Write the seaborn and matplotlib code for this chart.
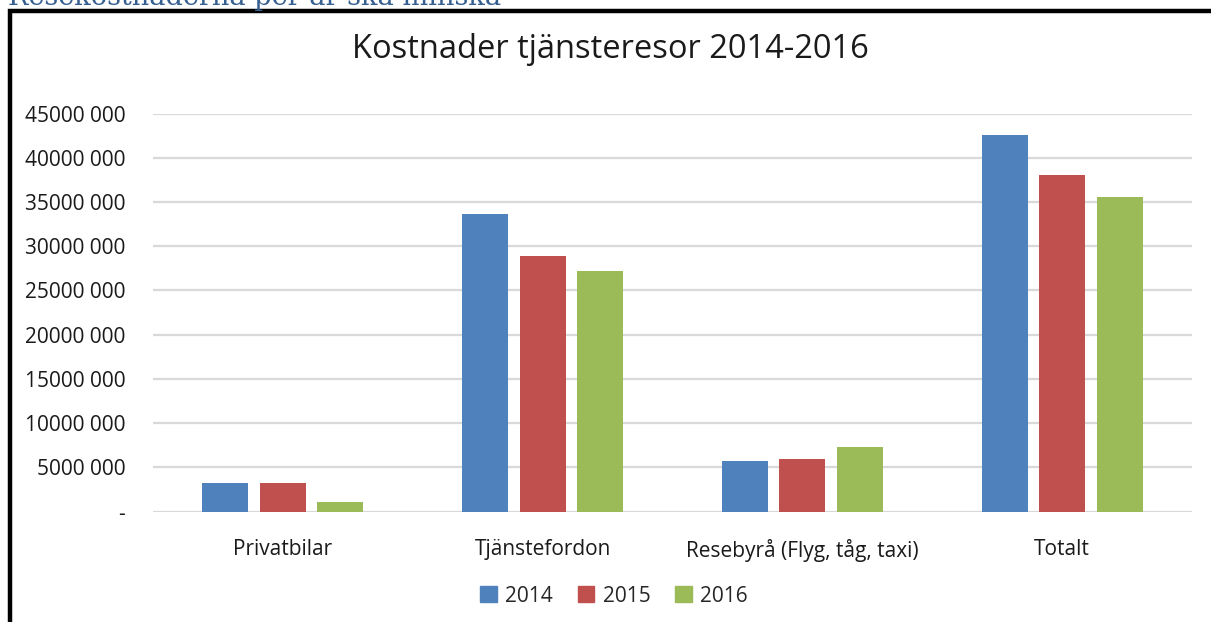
import pandas as pd
import seaborn as sns
import matplotlib.pyplot as plt
from matplotlib.patches import Rectangle
from matplotlib.ticker import FuncFormatter, MultipleLocator

# Data (SEK)
categories = ["Privatbilar", "Tjänstefordon", "Resebyrå (Flyg, tåg, taxi)", "Totalt"]
years = ["2014", "2015", "2016"]
cost_2014 = [3230000, 33640000, 5710000, 42570000]
cost_2015 = [3230000, 28900000, 5930000, 38050000]
cost_2016 = [1090000, 27200000, 7290000, 35560000]
colors = ["#4F81BD", "#C0504D", "#9BBB59"]

df = pd.DataFrame({
    "kategori": categories * 3,
    "år": [y for y in years for _ in categories],
    "kostnad": cost_2014 + cost_2015 + cost_2016,
})

sns.set_theme(style="white")
plt.rcParams['font.family'] = ['Open Sans', 'DejaVu Sans']

W, H = 1211, 622
fig = plt.figure(figsize=(W / 100, H / 100), dpi=100)
ax = fig.add_axes([153 / W, 1 - 511.7 / H, (1192 - 153) / W, (511.7 - 113.5) / H])

sns.barplot(data=df, x="kategori", y="kostnad", hue="år", palette=colors,
            width=0.664, gap=0.2, saturation=1, linewidth=0, ax=ax, legend=False)

ax.set_ylim(0, 45000000)
ax.set_xlim(-0.5, 3.5)
ax.yaxis.set_major_locator(MultipleLocator(5000000))
ax.yaxis.set_major_formatter(FuncFormatter(
    lambda v, p: "-" if v == 0 else f"{int(v // 1000)} 000"))
ax.grid(axis="y", color="#D9D9D9", linewidth=1.6)
ax.set_axisbelow(True)
for s in ax.spines.values():
    s.set_visible(False)
ax.set_xlabel("")
ax.set_ylabel("")
ax.tick_params(axis="y", length=0, pad=20, labelsize=15, labelcolor="#1a1a1a")
ax.tick_params(axis="x", length=0, pad=20, labelsize=15, labelcolor="#1a1a1a")

# Legend
handles = [Rectangle((0, 0), 1, 1, color=c) for c in colors]
fig.legend(handles, years, loc="center", bbox_to_anchor=(614 / W, 1 - 596 / H),
           ncol=3, frameon=False, fontsize=15, handlelength=0.8, handleheight=0.8,
           handletextpad=0.4, columnspacing=1.2)

# Title
fig.text(610 / W, 1 - 49 / H, "Kostnader tjänsteresor 2014-2016",
         ha="center", va="center", fontsize=23.5, color="#1a1a1a")

# Heading of the document, cut off at the top as in the page
fig.text(8 / W, 1 - 5 / H, "Resekostnaderna per år ska minska",
         ha="left", va="baseline", fontsize=19.5, color="#365F91",
         family="DejaVu Serif")

# Chart frame
frame = Rectangle((9.5 / W, -0.1), 1.2, 1 - 11 / H + 0.1, transform=fig.transFigure,
                  fill=False, edgecolor="black", linewidth=3.2, clip_on=False)
fig.patches.append(frame)

fig.savefig("out.png", dpi=100)
